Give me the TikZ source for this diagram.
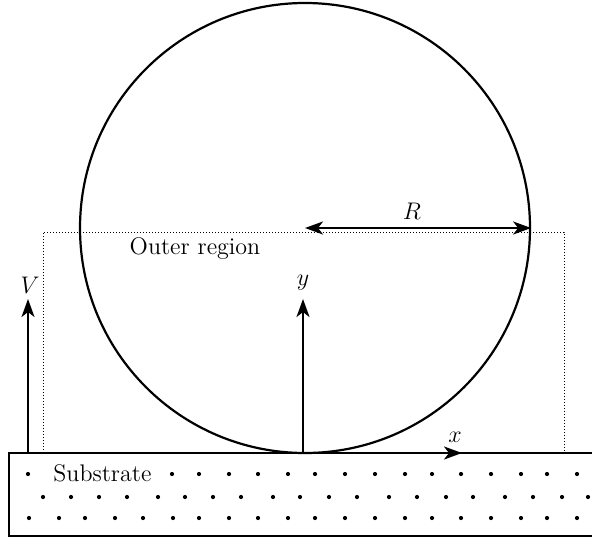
\documentclass[tikz,border=0pt]{standalone}
\usetikzlibrary{arrows.meta}
\tikzset{
  axisarrow/.style={line width=1.2pt,-{Stealth[length=9pt,width=6.5pt,inset=2.5pt]}},
  dimarrow/.style={line width=1.2pt,{Stealth[length=9pt,width=6.5pt,inset=2.5pt]}-{Stealth[length=9pt,width=6.5pt,inset=2.5pt]}},
  regionline/.style={densely dotted,line width=0.5pt},
  substrateline/.style={line width=0.9pt},
  grain/.style={fill=black},
  lbl/.style={font=\large,inner sep=1pt},
}
\begin{document}
\begin{tikzpicture}[x=0.5pt,y=-0.5pt]
\useasboundingbox (0,0) rectangle (592,540);
% drop
\node[circle,draw,line width=1.1pt,minimum size=225pt,inner sep=0pt] (drop) at (305,228) {};
% outer region (dotted)
\coordinate (rbl) at (43,453);
\coordinate (rtl) at (43,232);
\coordinate (rtr) at (564,232);
\coordinate (rbr) at (564,453);
\draw[regionline] (rbl) -- (rtl) -- (rtr) -- (rbr);
\node[lbl] (outer) at (195,249) {Outer region};
% substrate
\coordinate (stl) at (9,453);
\coordinate (sbl) at (9,536);
\coordinate (str) at (592,453);
\coordinate (sbr) at (592,536);
\draw[substrateline] (str) -- (stl) -- (sbl) -- (sbr);
\node[lbl,anchor=west] (sub) at (51,473) {Substrate};
% dots
\foreach \x in {28,172,199,229,258,288,315,345,375,405,432,461,491,521,547,577}
  \fill[grain] (\x,474) circle (1.05pt);
\foreach \x in {43,71,99,127,158,185,213,241,273,300,329,357,389,417,446,473,505,533,562,588}
  \fill[grain] (\x,497) circle (1.05pt);
\foreach \x in {29,59,85,115,143,173,199,229,258,288,315,345,375,405,432,461,491,521,547,577}
  \fill[grain] (\x,518) circle (1.05pt);
% axes
\coordinate (O) at (303,453);
\coordinate (ytip) at (303,299);
\coordinate (xtip) at (462,453);
\draw[axisarrow] (O) -- (ytip);
\draw[axisarrow] (O) -- (xtip);
\node[lbl] (ylab) at (303,283) {$y$};
\node[lbl] (xlab) at (455,437) {$x$};
% velocity
\coordinate (Vbase) at (28,453);
\coordinate (Vtip) at (28,299);
\draw[axisarrow] (Vbase) -- (Vtip);
\node[lbl] (Vlab) at (30,285) {$V$};
% radius
\draw[dimarrow] (drop.center) -- (drop.east);
\node[lbl] (Rlab) at (412,211) {$R$};
\end{tikzpicture}
\end{document}
